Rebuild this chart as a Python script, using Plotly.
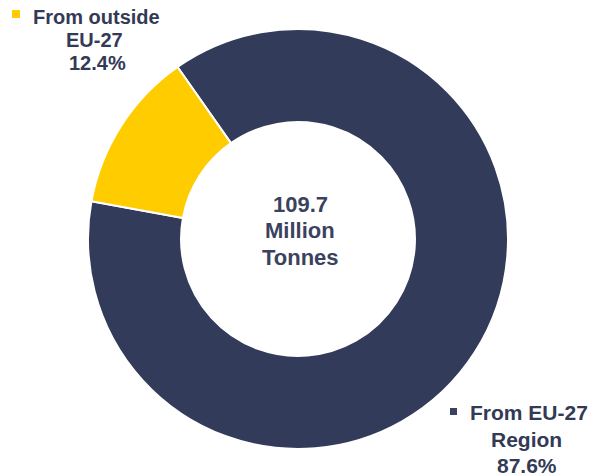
import plotly.graph_objects as go

# Origin of tonnage, shares in percent
sources = ["From EU-27 Region", "From outside EU-27"]
shares = [87.6, 12.4]
colors = ["#333B5A", "#FFCC00"]
total_label = ["109.7", "Million", "Tonnes"]

W, H = 595, 476
TEXT = "#333A56"
FONT = "Liberation Sans, Arial, sans-serif"


def px(x):
    return x / W


def py(y):
    return 1 - y / H


fig = go.Figure(
    go.Pie(
        labels=sources,
        values=shares,
        hole=0.557,
        sort=False,
        direction="clockwise",
        rotation=-35,
        marker=dict(colors=colors, line=dict(color="white", width=2)),
        textinfo="none",
        hoverinfo="label+percent",
        domain=dict(x=[px(88), px(508)], y=[py(449), py(29)]),
        showlegend=False,
    )
)

annotations = []


def add_line(text, x, y, size, color=TEXT):
    annotations.append(
        dict(
            text=f"<b>{text}</b>",
            x=px(x), y=py(y), xref="paper", yref="paper",
            xanchor="center", yanchor="middle", showarrow=False,
            font=dict(family=FONT, size=size, color=color),
        )
    )


# Label for the smaller slice (top left)
add_line("From outside", 96, 17, 20)
add_line("EU-27", 95, 40, 20)
add_line(f"{shares[1]}%", 97, 63, 20)

# Label for the larger slice (bottom right)
add_line("From EU-27", 529, 412, 21)
add_line("Region", 526, 439, 21)
add_line(f"{shares[0]}%", 527, 465, 21)

# Total in the hole
for i, t in enumerate(total_label):
    add_line(t, 300, 204 + i * 26.5, 22, "#3A4260")

# Small colour keys next to the labels
shapes = [
    dict(type="rect", xref="paper", yref="paper",
         x0=px(12), x1=px(20), y0=py(18), y1=py(10),
         fillcolor=colors[1], line=dict(width=0)),
    dict(type="rect", xref="paper", yref="paper",
         x0=px(450), x1=px(457), y0=py(415), y1=py(408),
         fillcolor="#3B4260", line=dict(width=0)),
]

fig.update_layout(
    width=W, height=H,
    margin=dict(l=0, r=0, t=0, b=0),
    paper_bgcolor="white",
    plot_bgcolor="white",
    annotations=annotations,
    shapes=shapes,
)

fig.write_html("out.html")
